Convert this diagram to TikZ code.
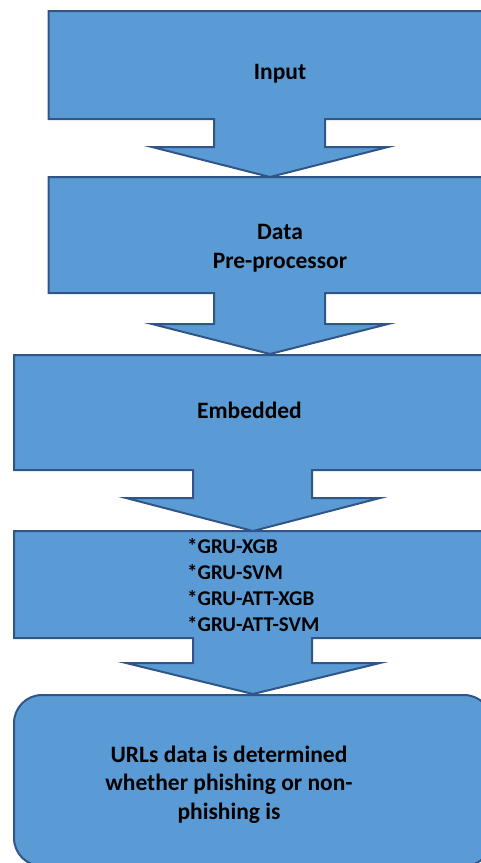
\documentclass[tikz,border=0pt]{standalone}
\usepackage{fontspec}
\setmainfont{Carlito}
\definecolor{boxblue}{HTML}{5B9BD5}
\definecolor{boxedge}{HTML}{2F5686}

\begin{document}
\begin{tikzpicture}[x=1pt, y=1pt,
    stage/.style={fill=boxblue, draw=boxedge, line width=2pt, line join=miter},
    lbl/.style={font=\fontsize{23.5}{28.5}\selectfont\bfseries, align=center, inner sep=0pt},
    item/.style={font=\fontsize{21}{25.8}\selectfont\bfseries, align=left, inner sep=0pt},
]
    % Page frame
    \path[use as bounding box, clip] (0,0) rectangle (481,-863);

    % Input
    \draw[stage] (48.5,-11) -- (491.5,-11) -- (491.5,-119) -- (325,-119) -- (325,-147)
        -- (388,-147) -- (270,-177) -- (152,-147) -- (214,-147) -- (214,-119)
        -- (48.5,-119) -- cycle;
    \node[lbl, anchor=base] (input) at (280,-79) {Input};

    % Pre-processing
    \draw[stage] (48.5,-177) -- (491.5,-177) -- (491.5,-293) -- (325,-293) -- (325,-324)
        -- (388,-324) -- (270,-354) -- (152,-324) -- (214,-324) -- (214,-293)
        -- (48.5,-293) -- cycle;
    \node[lbl] (prep) at (280,-248) {Data\\Pre-processor};

    % Embedding
    \draw[stage] (14,-355) -- (492,-355) -- (492,-470) -- (312,-470) -- (312,-498)
        -- (380,-498) -- (253,-531) -- (126,-498) -- (193,-498) -- (193,-470)
        -- (14,-470) -- cycle;
    \node[lbl, anchor=base] (embed) at (249.5,-418) {Embedded};

    % Models
    \draw[stage] (14,-531) -- (492,-531) -- (492,-638) -- (312,-638) -- (312,-663)
        -- (380,-663) -- (253,-694) -- (126,-663) -- (193,-663) -- (193,-638)
        -- (14,-638) -- cycle;
    \node[item, anchor=north west] (models) at (187,-538.5)
        {*GRU-XGB\\*GRU-SVM\\*GRU-ATT-XGB\\*GRU-ATT-SVM};

    % Result
    \draw[stage, rounded corners=28pt] (14,-695) rectangle (492,-866);
    \node[lbl] (result) at (229,-784.5)
        {URLs data is determined\\whether phishing or non-\\phishing is};
\end{tikzpicture}
\end{document}
